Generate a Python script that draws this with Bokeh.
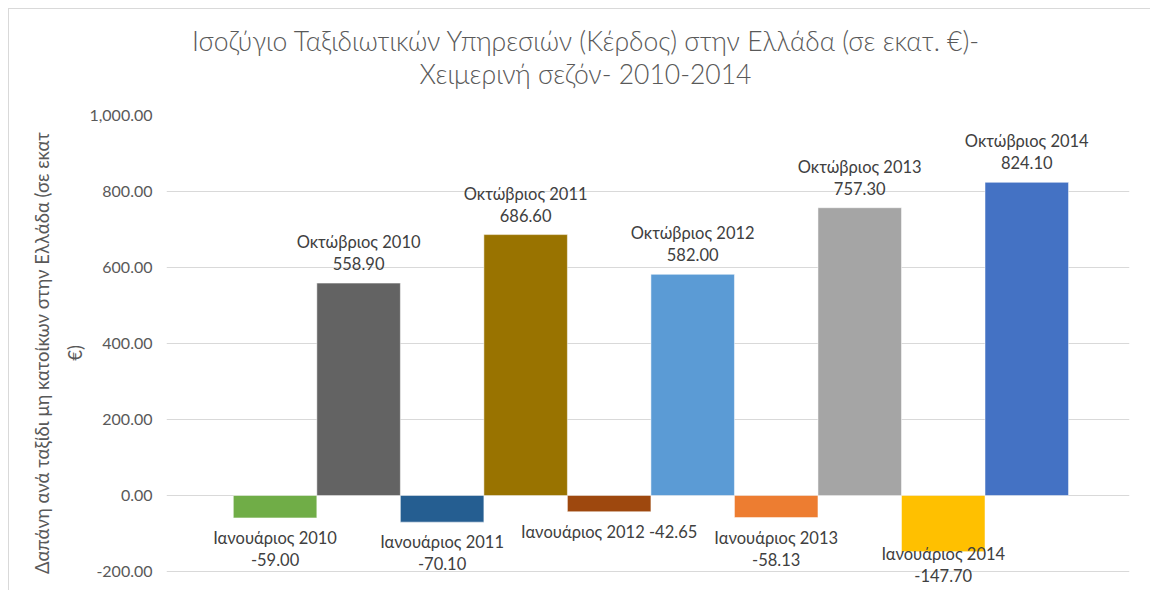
from bokeh.plotting import figure
from bokeh.models import ColumnDataSource, LabelSet, Range1d, NumeralTickFormatter, FixedTicker, Div
from bokeh.layouts import column
from bokeh.core.properties import value
from bokeh.embed import file_html
from bokeh.resources import INLINE

categories = ["Ιανουάριος 2010", "Οκτώβριος 2010", "Ιανουάριος 2011", "Οκτώβριος 2011",
              "Ιανουάριος 2012", "Οκτώβριος 2012", "Ιανουάριος 2013", "Οκτώβριος 2013",
              "Ιανουάριος 2014", "Οκτώβριος 2014"]
values = [-59.00, 558.90, -70.10, 686.60, -42.65, 582.00, -58.13, 757.30, -147.70, 824.10]
colors = ["#70AD47", "#636363", "#255E91", "#997300", "#9E480E",
          "#5B9BD5", "#ED7D31", "#A5A5A5", "#FFC000", "#4472C4"]
y_ticks = [-200, 0, 200, 400, 600, 800, 1000]
title_lines = ["Ισοζύγιο Ταξιδιωτικών Υπηρεσιών (Κέρδος) στην Ελλάδα (σε εκατ. €)-",
               "Χειμερινή σεζόν- 2010-2014"]
y_label = "Δαπάνη ανά ταξίδι μη κατοίκων στην Ελλάδα (σε εκατ\n€)"

FONT = "Lato"
TXT = "#595959"
LBL = "#404040"

n = len(values)
xs = list(range(n))

W = 1141
TITLE_H = 90
FIG_H = 491
TOP = 16
GRID_PX = 456  # pixel height between lowest and highest gridline
frame_h = FIG_H - TOP
units_per_px = (y_ticks[-1] - y_ticks[0]) / GRID_PX
y_start = y_ticks[-1] - frame_h * units_per_px

title = Div(text=(f'<div style="box-sizing:border-box;width:{W}px;padding-top:16px;padding-left:12px;'
                  f'text-align:center;font-family:{FONT};font-weight:300;font-size:26.5px;'
                  f'line-height:33px;color:{TXT};white-space:nowrap;">'
                  f'{title_lines[0]}<br>{title_lines[1]}</div>'),
            width=W, height=TITLE_H, margin=0)

p = figure(width=W, height=FIG_H, output_backend="svg", toolbar_location=None,
           x_range=Range1d(-1.30, n - 1 + 1.23), y_range=Range1d(y_start, y_ticks[-1]),
           min_border_left=157, min_border_right=21, min_border_top=TOP, min_border_bottom=0,
           margin=0)
p.outline_line_color = None
p.xaxis.visible = False
p.xgrid.grid_line_color = None
p.ygrid.ticker = FixedTicker(ticks=y_ticks)
p.ygrid.grid_line_color = "#d9d9d9"

ya = p.yaxis[0]
ya.ticker = FixedTicker(ticks=y_ticks)
ya.formatter = NumeralTickFormatter(format="0,0.00")
ya.axis_line_color = None
ya.major_tick_line_color = None
ya.minor_tick_line_color = None
ya.major_label_text_font = FONT
ya.major_label_text_font_size = "16px"
ya.major_label_text_color = TXT
ya.major_label_standoff = 8
ya.axis_label = y_label
ya.axis_label_text_font = FONT
ya.axis_label_text_font_size = "18.5px"
ya.axis_label_text_font_style = "normal"
ya.axis_label_text_color = TXT
ya.axis_label_text_line_height = 1.5
ya.axis_label_standoff = 0

src = ColumnDataSource(dict(x=xs, top=values, color=colors))
p.vbar(x="x", top="top", bottom=0, width=1.0, fill_color="color", line_color="white",
       line_width=0.5, source=src)

line1, line2 = [], []
for c, v in zip(categories, values):
    if abs(v) < 50:
        line1.append(f"{c} {v:.2f}")
        line2.append("")
    else:
        line1.append(c)
        line2.append(f"{v:.2f}")

pos = [i for i in xs if values[i] >= 0]
neg = [i for i in xs if values[i] < 0]
psrc = ColumnDataSource(dict(x=[xs[i] for i in pos], y=[values[i] for i in pos],
                             a=[line1[i] for i in pos], b=[line2[i] for i in pos]))
nsrc = ColumnDataSource(dict(x=[xs[i] for i in neg], y=[max(values[i], -100) for i in neg],
                             a=[line1[i] for i in neg], b=[line2[i] for i in neg]))
common = dict(text_font=value(FONT), text_font_size="16.5px", text_color=LBL, text_align="center")
p.add_layout(LabelSet(x="x", y="y", text="a", source=psrc, y_offset=31,
                      text_baseline="bottom", **common))
p.add_layout(LabelSet(x="x", y="y", text="b", source=psrc, y_offset=13,
                      text_baseline="bottom", **common))
p.add_layout(LabelSet(x="x", y="y", text="a", source=nsrc, y_offset=-10,
                      text_baseline="top", **common))
p.add_layout(LabelSet(x="x", y="y", text="b", source=nsrc, y_offset=-35,
                      text_baseline="top", **common))

layout = column(title, p, margin=(8, 0, 0, 8), spacing=0,
                styles={"border-top": "1px solid #d9d9d9", "border-left": "1px solid #d9d9d9"})

open("out.html", "w").write(file_html(layout, INLINE))
